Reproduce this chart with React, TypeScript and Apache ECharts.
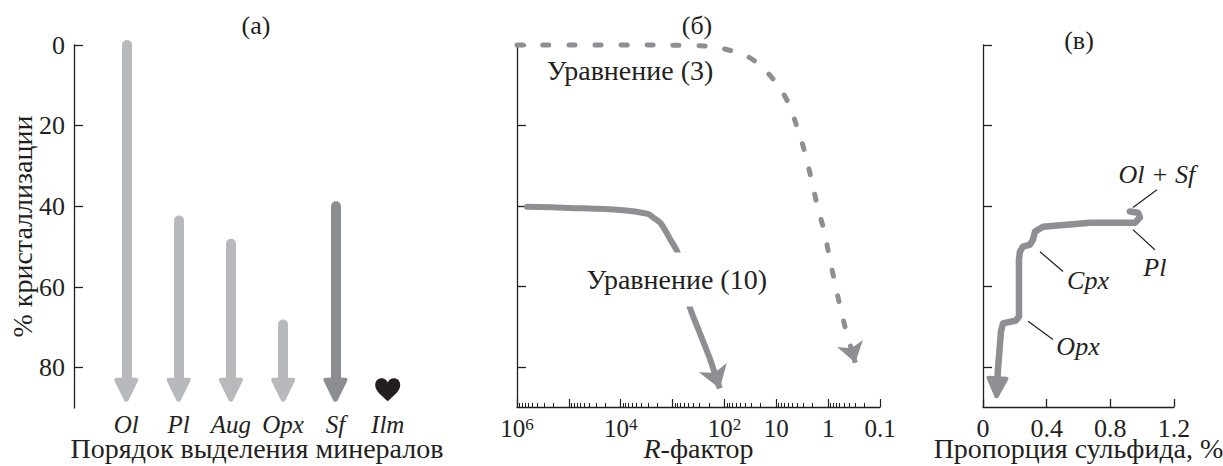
import React, { useEffect, useRef } from 'react';
import * as echarts from 'echarts';

// ---------- data ----------
const minerals = ['Ol', 'Pl', 'Aug', 'Opx', 'Sf', 'Ilm'];
// % crystallisation at which each phase appears (Ilm shown only as a symbol)
const mineralStart = [0, 43.5, 49.3, 69.3, 40, null];
const mineralColor = ['#b8b9bc', '#b8b9bc', '#b8b9bc', '#b8b9bc', '#8c8d90', '#231f20'];
const arrowHeadAt = 85.5;
const ilmAt = 85.5;
const percentTicks = [0, 20, 40, 60, 80];

// panel б: [R-factor, % crystallisation]
const eq3Curve: [number, number][] = [
  [1e6, 0], [1e4, 0], [300, 0.2], [80, 1.3], [28, 3.7], [12, 8.2], [6.3, 13.6], [4, 20.3],
  [2.8, 26.8], [2.1, 33.5], [1.6, 40.2], [1.17, 46.7], [0.93, 53.3], [0.74, 59.1],
  [0.57, 65.8], [0.44, 71.5], [0.34, 76.4],
];
const eq3Head: [number, number] = [0.3, 79];
const eq10Curve: [number, number][] = [
  [6.4e5, 40.2], [1e5, 40.5], [1e4, 41], [3000, 42], [2300, 43], [1700, 44.3], [1100, 48.4],
  [800, 51.6], [600, 58], [470, 65], [300, 71.5], [190, 78],
];
const eq10Head: [number, number] = [123, 85.4];
const rDecades = [1e6, 1e5, 1e4, 1e3, 100, 10, 1, 0.1];
const rLabels = [1e6, 1e4, 100, 10, 1, 0.1];
const rMinor: number[] = [];
for (let e = -1; e <= 5; e++) for (let k = 2; k <= 9; k++) rMinor.push(+(k * Math.pow(10, e)).toPrecision(3));

// panel в: [sulfide proportion %, % crystallisation]
const sulfideCurve: [number, number][] = [
  [0.923, 41.4], [0.974, 41.7], [0.986, 42.9], [0.955, 44.2], [0.672, 44.2], [0.377, 45.2],
  [0.327, 46.4], [0.314, 48.4], [0.295, 49.6], [0.251, 50.1], [0.232, 51.4], [0.226, 53.3],
  [0.226, 67.5], [0.207, 68.5], [0.126, 69.2], [0.113, 71.2], [0.094, 80.6],
];
const sulfideHead: [number, number] = [0.088, 85.1];
const sulfideTicks = [0, 0.4, 0.8, 1.2];
const phaseNotes = [
  { name: 'Ol + Sf', label: [1.093, 32.3], from: [0.942, 40.4], to: [1.093, 36.0] },
  { name: 'Pl', label: [1.08, 55.3], from: [0.942, 45.9], to: [1.08, 50.9] },
  { name: 'Cpx', label: [0.66, 58.5], from: [0.358, 51.4], to: [0.503, 56.3] },
  { name: 'Opx', label: [0.597, 75.0], from: [0.283, 68.7], to: [0.44, 73.2] },
];
const equationNotes = [
  { name: 'Уравнение (3)', pos: [6600, 6.4], box: false },
  { name: 'Уравнение (10)', pos: [830, 58.3], box: true },
];

// ---------- styles ----------
const FONT = 'Liberation Serif, Times New Roman, serif';
const INK = '#231f20';
const CURVE = '#8e8f92';
const TICK_FS = 26;
const NAME_FS = 28;
const HEAD = 'path://M10,1 C11,-0.3 13,-0.3 14,1 L23.5,20 C24.3,21.8 23.3,23 21.5,23 L2.5,23 C0.7,23 -0.3,21.8 0.5,20 Z';
const HEART = 'path://M12,22 C6,16 0,12 0,6.5 C0,2.5 2.8,0 6.2,0 C9,0 11,1.8 12,4 C13,1.8 15,0 17.8,0 C21.2,0 24,2.5 24,6.5 C24,12 18,16 12,22 Z';

const axisLine = { show: true, onZero: false, lineStyle: { color: INK, width: 1.3 } };

function percentAxis(gridIndex: number, withLabels: boolean) {
  return {
    type: 'value', gridIndex, min: 0, max: 90, inverse: true, position: 'left',
    axisLine,
    axisTick: { show: true, inside: true, length: 9, customValues: percentTicks, lineStyle: { color: INK, width: 1.3 } },
    axisLabel: withLabels
      ? { show: true, customValues: percentTicks, fontSize: TICK_FS, color: INK, fontFamily: FONT, margin: 9 }
      : { show: false },
    splitLine: { show: false },
    name: withLabels ? '% кристаллизации' : '',
    nameLocation: 'middle', nameRotate: 90, nameGap: 38, nameMoveOverlap: false,
    nameTextStyle: { fontSize: NAME_FS, color: INK, fontFamily: FONT },
  };
}

export default function App() {
  const ref = useRef<HTMLDivElement>(null);
  useEffect(() => {
    if (!ref.current) return;
    const chart = echarts.init(ref.current, null, { renderer: 'svg' });

    const arrowsA = minerals
      .map((m, i) => (mineralStart[i] == null ? null : {
        coords: [[i, mineralStart[i]], [i, arrowHeadAt]],
        lineStyle: { color: mineralColor[i] },
      }))
      .filter(Boolean);

    const titleStyle = (text: string) => ({
      text, fontSize: 26, fontFamily: FONT, fill: INK,
      align: 'center', verticalAlign: 'middle', textAlign: 'center', textVerticalAlign: 'middle',
    });

    chart.setOption({
      animation: false,
      textStyle: { fontFamily: FONT, color: INK },
      grid: [
        { left: 74, top: 45, width: 366, height: 363, outerBoundsMode: 'none', containLabel: false },
        { left: 517, top: 45, width: 363, height: 362, outerBoundsMode: 'none', containLabel: false },
        { left: 983, top: 45, width: 191, height: 362, outerBoundsMode: 'none', containLabel: false },
      ],
      xAxis: [
        {
          type: 'value', gridIndex: 0, min: -1, max: 6, interval: 1, position: 'bottom',
          axisLine: { show: false, onZero: false }, axisTick: { show: false }, splitLine: { show: false },
          axisLabel: {
            customValues: minerals.map((_, i) => i),
            formatter: (v: number) => minerals[Math.round(v)] ?? '',
            fontStyle: 'italic', fontSize: 25, color: INK, fontFamily: FONT, margin: 4,
          },
          name: 'Порядок выделения минералов', nameLocation: 'middle', nameGap: 26, nameMoveOverlap: false,
          nameTextStyle: { fontSize: NAME_FS, color: INK, fontFamily: FONT },
        },
        {
          type: 'log', logBase: 10, gridIndex: 1, min: 0.1, max: 1e6, inverse: true, position: 'bottom',
          axisLine,
          axisTick: { show: true, inside: true, length: 8, customValues: rDecades, lineStyle: { color: INK, width: 1.2 } },
          axisLabel: {
            customValues: rLabels, margin: 9, color: INK, fontFamily: FONT, fontSize: 25,
            formatter: (v: number) => {
              const e = Math.round(Math.log10(v));
              if (e >= 2) return `{b|10}{s|${e}}`;
              if (e === 1) return '{b|10}';
              if (e === 0) return '{b|1}';
              return '{b|0.1}';
            },
            rich: {
              b: { fontSize: 25, fontFamily: FONT, color: INK },
              s: { fontSize: 17, fontFamily: FONT, color: INK, verticalAlign: 'top' },
            },
          },
          splitLine: { show: false },
          name: '{i|R}-фактор', nameLocation: 'middle', nameGap: 27, nameMoveOverlap: false,
          nameTextStyle: {
            fontSize: NAME_FS, color: INK, fontFamily: FONT,
            rich: { i: { fontStyle: 'italic', fontSize: NAME_FS, fontFamily: FONT, color: INK } },
          },
        },
        {
          type: 'log', logBase: 10, gridIndex: 1, min: 0.1, max: 1e6, inverse: true, position: 'bottom',
          axisLine: { show: false, onZero: false },
          axisTick: { show: true, inside: true, length: 4, customValues: rMinor, lineStyle: { color: INK, width: 1 } },
          axisLabel: { show: false }, splitLine: { show: false },
        },
        {
          type: 'value', gridIndex: 2, min: 0, max: 1.2, interval: 0.4, position: 'bottom',
          axisLine,
          axisTick: { show: true, inside: true, length: 8, customValues: sulfideTicks, lineStyle: { color: INK, width: 1.3 } },
          axisLabel: {
            customValues: sulfideTicks, margin: 8, fontSize: TICK_FS, color: INK, fontFamily: FONT,
            formatter: (v: number) => (v === 0 ? '0' : v.toFixed(1)),
          },
          splitLine: { show: false },
          name: 'Пропорция сульфида, %', nameLocation: 'middle', nameGap: 27, nameMoveOverlap: false,
          nameTextStyle: { fontSize: NAME_FS, color: INK, fontFamily: FONT },
        },
      ],
      yAxis: [percentAxis(0, true), percentAxis(1, false), percentAxis(2, false)],
      graphic: [
        { type: 'text', x: 256, y: 25, style: titleStyle('(а)') },
        { type: 'text', x: 697, y: 25, style: titleStyle('(б)') },
        { type: 'text', x: 1079, y: 40, style: titleStyle('(в)') },
      ],
      series: [
        // panel а
        {
          type: 'lines', coordinateSystem: 'cartesian2d', xAxisIndex: 0, yAxisIndex: 0,
          symbol: ['none', HEAD], symbolSize: 24,
          lineStyle: { width: 10, cap: 'round', opacity: 1, curveness: 0 },
          data: arrowsA, silent: true,
        },
        {
          type: 'scatter', xAxisIndex: 0, yAxisIndex: 0, symbol: HEART, symbolSize: [25, 23],
          itemStyle: { color: mineralColor[5], opacity: 1 }, data: [[5, ilmAt]], silent: true,
        },
        // panel б
        {
          type: 'line', xAxisIndex: 1, yAxisIndex: 1, data: eq3Curve, smooth: 0.4, showSymbol: false,
          symbol: 'none', clip: false,
          lineStyle: { color: CURVE, width: 5, type: [6, 20], cap: 'round' }, silent: true,
        },
        {
          type: 'lines', coordinateSystem: 'cartesian2d', xAxisIndex: 1, yAxisIndex: 1,
          symbol: ['none', 'arrow'], symbolSize: 20,
          lineStyle: { color: CURVE, width: 5, opacity: 1 },
          data: [{ coords: [eq3Curve[eq3Curve.length - 1], eq3Head] }], silent: true,
        },
        {
          type: 'line', xAxisIndex: 1, yAxisIndex: 1, data: eq10Curve, smooth: 0.3, showSymbol: false,
          symbol: 'none', clip: false,
          lineStyle: { color: CURVE, width: 6, cap: 'round' }, silent: true,
        },
        {
          type: 'lines', coordinateSystem: 'cartesian2d', xAxisIndex: 1, yAxisIndex: 1,
          symbol: ['none', 'arrow'], symbolSize: 22,
          lineStyle: { color: CURVE, width: 6, opacity: 1 },
          data: [{ coords: [eq10Curve[eq10Curve.length - 1], eq10Head] }], silent: true,
        },
        {
          type: 'scatter', xAxisIndex: 1, yAxisIndex: 1, symbolSize: 0, z: 10, silent: true,
          itemStyle: { opacity: 1 },
          data: equationNotes.map((n) => ({
            name: n.name, value: n.pos,
            label: n.box ? { backgroundColor: '#ffffff', padding: [13, 3] } : {},
          })),
          label: { show: true, position: 'inside', formatter: '{b}', fontSize: NAME_FS, color: INK, fontFamily: FONT },
        },
        // panel в
        {
          type: 'line', xAxisIndex: 3, yAxisIndex: 2, data: sulfideCurve, showSymbol: false,
          symbol: 'none', clip: false,
          lineStyle: { color: CURVE, width: 6.5, cap: 'round', join: 'round' }, silent: true,
        },
        {
          type: 'lines', coordinateSystem: 'cartesian2d', xAxisIndex: 3, yAxisIndex: 2,
          symbol: ['none', HEAD], symbolSize: 22,
          lineStyle: { color: CURVE, width: 6.5, opacity: 1 },
          data: [{ coords: [sulfideCurve[sulfideCurve.length - 1], sulfideHead] }], silent: true,
        },
        {
          type: 'lines', coordinateSystem: 'cartesian2d', xAxisIndex: 3, yAxisIndex: 2,
          symbol: 'none', lineStyle: { color: INK, width: 1.2, opacity: 1 },
          data: phaseNotes.map((n) => ({ coords: [n.from, n.to] })), silent: true,
        },
        {
          type: 'scatter', xAxisIndex: 3, yAxisIndex: 2, symbolSize: 0, z: 10, silent: true,
          itemStyle: { opacity: 1 },
          data: phaseNotes.map((n) => ({ name: n.name, value: n.label })),
          label: { show: true, position: 'inside', formatter: '{b}', fontSize: 26, fontStyle: 'italic', color: INK, fontFamily: FONT },
        },
      ],
    });
    return () => chart.dispose();
  }, []);
  return <div ref={ref} style={{ position: 'absolute', left: 0, top: 0, width: 1223, height: 466, background: '#fff' }} />;
}
